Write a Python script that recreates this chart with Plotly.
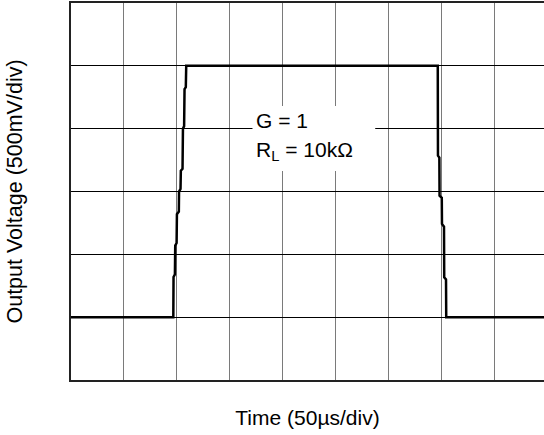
import plotly.graph_objects as go

# Time in microseconds (50 us/div), output voltage in volts (500 mV/div)
time_us = [0.0, 96.7, 96.9, 98.2, 98.5, 99.8, 100.1, 101.9, 102.1, 103.5, 103.8,
           105.4, 105.8, 106.9, 107.3, 108.5, 108.9, 111.8,
           346.6, 346.8, 348.1, 348.3, 350.4, 350.6, 352.5, 352.7, 354.4, 354.6, 500.0]
volt_v = [0.0, 0.0, 0.32, 0.34, 0.57, 0.59, 0.82, 0.84, 1.0, 1.02, 1.165,
          1.18, 1.5, 1.52, 1.815, 1.83, 2.0, 2.0,
          2.0, 1.285, 1.27, 0.967, 0.95, 0.742, 0.72, 0.318, 0.30, 0.0, 0.0]

x_title = "Time (50µs/div)"
y_title = "Output Voltage (500mV/div)"
note_line1 = "G = 1"
note_line2 = "R<sub>L</sub> = 10kΩ"

FONT = "Liberation Sans, Arial, sans-serif"

fig = go.Figure()
fig.add_trace(go.Scatter(x=time_us, y=volt_v, mode="lines",
                         line=dict(color="black", width=2.5), hoverinfo="skip",
                         showlegend=False))

# white box behind the annotation text (hides grid)
fig.add_shape(type="rect", xref="x", yref="y", x0=171.5, x1=287.5, y0=1.163, y1=1.68,
              fillcolor="white", line=dict(width=0), layer="above")

fig.add_annotation(x=172.5, y=1.563, xref="x", yref="y", text=note_line1,
                   showarrow=False, xanchor="left", yanchor="middle",
                   font=dict(family=FONT, size=21, color="black"))
fig.add_annotation(x=172.5, y=1.32, xref="x", yref="y", text=note_line2,
                   showarrow=False, xanchor="left", yanchor="middle",
                   font=dict(family=FONT, size=21, color="black"))

fig.update_layout(
    width=544, height=435,
    margin=dict(l=71, r=0, t=3, b=55),
    paper_bgcolor="white", plot_bgcolor="white",
    font=dict(family=FONT, size=21, color="black"),
    xaxis=dict(range=[0, 447], dtick=50, tick0=0, showticklabels=False, ticks="",
               showgrid=True, gridcolor="#7a7a7a", gridwidth=1.3, zeroline=False,
               showline=True, linecolor="#222222", linewidth=2, mirror=True,
               title=dict(text=x_title, standoff=29, font=dict(size=21)),
               automargin=False, fixedrange=True),
    yaxis=dict(range=[-0.5, 2.5], dtick=0.5, tick0=0, showticklabels=False, ticks="",
               showgrid=True, gridcolor="black", gridwidth=1, zeroline=False,
               showline=True, linecolor="#222222", linewidth=2, mirror=False,
               title=dict(text=y_title, standoff=40, font=dict(size=21.5)),
               automargin=False, fixedrange=True),
)

fig.write_html("out.html", config={"displayModeBar": False},
               post_script="document.body.style.margin='0';")
